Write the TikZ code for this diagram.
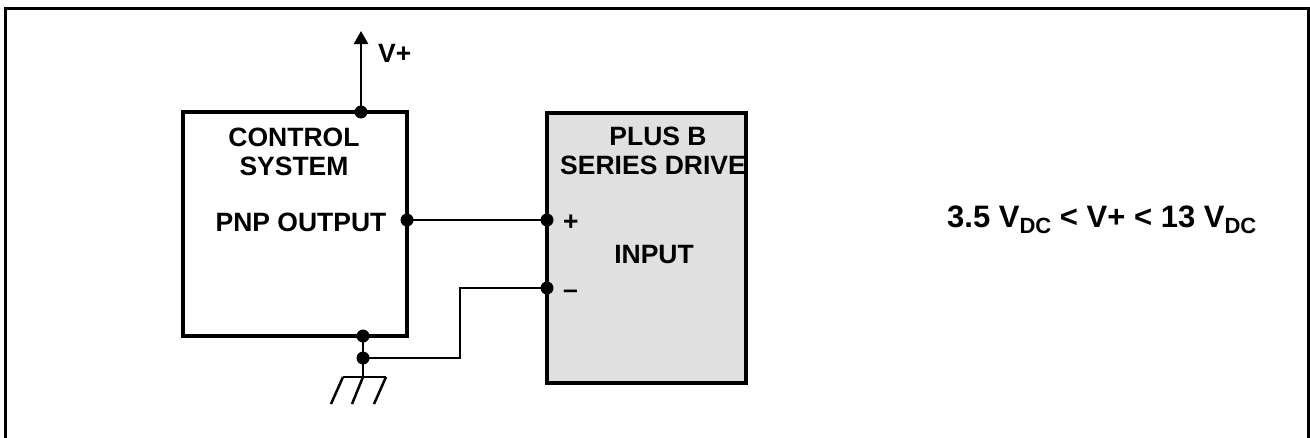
\documentclass[tikz,border=0pt]{standalone}
\usepackage{fontspec}
\setmainfont{Liberation Sans}
\usetikzlibrary{arrows.meta}
\newcommand{\subDC}{\raisebox{-0.22em}{\fontsize{22}{22}\selectfont DC}}
\tikzset{
  box/.style={draw, line width=4.5pt, inner sep=0pt},
  wire/.style={line width=2.5pt},
  dot/.style={circle, fill, inner sep=0pt, minimum size=13pt},
  lbl/.style={font=\fontsize{26.5}{32}\selectfont\bfseries, inner sep=0pt, anchor=base}
}
\begin{document}
\begin{tikzpicture}[x=1pt, y=-1pt]
                \useasboundingbox (0,0) rectangle (1310,437);
                \draw[line width=3pt] (5,460) |- (1308,8) -- (1308,460);
                % boxes
                \node[box, minimum width=224pt, minimum height=224pt] (ctrl) at (295,224) {};
                \node[box, fill=black!12, minimum width=199pt, minimum height=270pt] (drive) at (646.5,248) {};
                % texts
                \node[lbl] (ctrlA) at (294,146) {CONTROL};
                \node[lbl] (ctrlB) at (294,175) {SYSTEM};
                \node[lbl] (pnp) at (301,231) {PNP OUTPUT};
                \node[lbl] (driveA) at (658,145) {PLUS B};
                \node[lbl] (driveB) at (653,174) {SERIES DRIVE};
                \node[lbl] (inp) at (654,263) {INPUT};
                \node[lbl, anchor=base west] (plus) at (563,230) {+};
                \node[lbl, anchor=base west] (minus) at (563,298) {–};
                \node[lbl, anchor=base west] (vplus) at (378,62) {V+};
                \node[lbl, anchor=base west, font=\fontsize{31}{36}\selectfont\bfseries] (range) at (947,227) {3.5 V\subDC{} < V+ < 13 V\subDC};
                % supply
                \node[dot] (top) at (361,112) {};
                \coordinate (vtip) at (361,31);
                \draw[line width=2.5pt, -{Triangle[length=13pt, width=14pt]}] (top.center) -- (vtip);
                % signal wires
                \node[dot] (out) at (407,220) {};
                \node[dot] (inA) at (547,220) {};
                \node[dot] (inB) at (547,288) {};
                \draw[wire] (out.center) -- (inA.center);
                \node[dot] (gA) at (363,336) {};
                \node[dot] (gB) at (363,358) {};
                \draw[wire] (inB.center) -- (460,288) |- (gB.center);
                % ground
                \coordinate (gnd) at (363,377);
                \draw[wire] (gA.center) -- (gnd);
                \draw[wire] (343,377) -- (386,377);
                \draw[wire] (343,377) -- (331,404);
                \draw[wire] (gnd) -- (352,404);
                \draw[wire] (386,377) -- (374,404);
\end{tikzpicture}
\end{document}
